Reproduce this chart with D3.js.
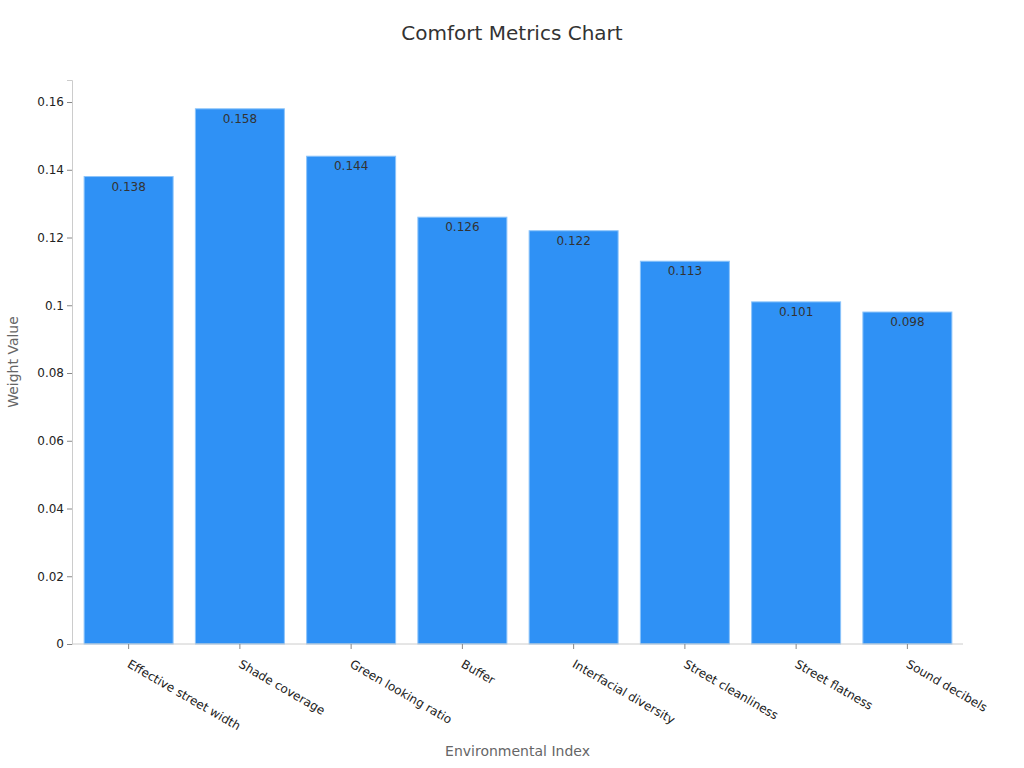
<!DOCTYPE html>
<html>
<head>
<meta charset="utf-8">
<script src="https://cdn.jsdelivr.net/npm/d3@7"></script>
<style>
  body { margin: 0; background: #fff; }
  svg { font-family: "DejaVu Sans", sans-serif; }
</style>
</head>
<body>
<svg id="chart"></svg>
<script>
const categories = [
  "Effective street width",
  "Shade coverage",
  "Green looking ratio",
  "Buffer",
  "Interfacial diversity",
  "Street cleanliness",
  "Street flatness",
  "Sound decibels"
];
const weights = [0.138, 0.158, 0.144, 0.126, 0.122, 0.113, 0.101, 0.098];
const yTicks = [0, 0.02, 0.04, 0.06, 0.08, 0.1, 0.12, 0.14, 0.16];

const width = 1024;
const height = 768;
const margin = { top: 80, right: 61, bottom: 124, left: 72 };

const svg = d3.select("#chart")
  .attr("width", width)
  .attr("height", height);

const xScale = d3.scaleBand()
  .domain(categories)
  .range([margin.left + 1, width - margin.right])
  .paddingInner(0.2)
  .paddingOuter(0.1);

const yScale = d3.scaleLinear()
  .domain([0, 0.1665])
  .range([height - margin.bottom, margin.top]);

// title
svg.append("text")
  .attr("x", width / 2)
  .attr("y", 40)
  .attr("text-anchor", "middle")
  .style("font-size", "20px")
  .style("fill", "#333")
  .text("Comfort Metrics Chart");

// bars
svg.selectAll("rect.bar")
  .data(weights)
  .enter()
  .append("rect")
  .attr("class", "bar")
  .attr("x", (d, i) => xScale(categories[i]))
  .attr("y", (d) => yScale(d))
  .attr("width", xScale.bandwidth())
  .attr("height", (d) => yScale(0) - yScale(d))
  .style("fill", "#2f91f5")
  .style("stroke", "#8cc4fa")
  .style("stroke-width", 1);

// value labels
svg.selectAll("text.value")
  .data(weights)
  .enter()
  .append("text")
  .attr("class", "value")
  .attr("x", (d, i) => xScale(categories[i]) + xScale.bandwidth() / 2)
  .attr("y", (d) => yScale(d) + 14)
  .attr("text-anchor", "middle")
  .style("font-size", "12px")
  .style("fill", "#333")
  .text((d) => d3.format(".3f")(d));

// y axis
const yAxis = d3.axisLeft(yScale)
  .tickValues(yTicks)
  .tickSize(5)
  .tickFormat((d) => (d === 0 ? "0" : d3.format("~g")(d)));

const gy = svg.append("g")
  .attr("transform", `translate(${margin.left}, 0)`)
  .call(yAxis);
gy.select(".domain").style("stroke", "#ccc");
gy.selectAll(".tick line").style("stroke", "#888");
gy.selectAll(".tick text")
  .style("font-size", "12px")
  .style("fill", "#222")
  .style("font-family", "DejaVu Sans, sans-serif");

// x axis
const xAxis = d3.axisBottom(xScale).tickSize(5).tickSizeOuter(0);
const gx = svg.append("g")
  .attr("transform", `translate(0, ${height - margin.bottom})`)
  .call(xAxis);
gx.select(".domain")
  .attr("d", `M${margin.left},0H${width - margin.right}`)
  .style("stroke", "#ccc");
gx.selectAll(".tick line").style("stroke", "#888");
gx.selectAll(".tick text")
  .style("font-size", "12px")
  .style("fill", "#222")
  .style("font-family", "DejaVu Sans, sans-serif")
  .attr("text-anchor", "start")
  .attr("dy", "0.35em")
  .attr("transform", "translate(4, 12) rotate(30)");

// axis titles
svg.append("text")
  .attr("x", (margin.left + width - margin.right) / 2)
  .attr("y", 756)
  .attr("text-anchor", "middle")
  .style("font-size", "14px")
  .style("fill", "#666")
  .text("Environmental Index");

svg.append("text")
  .attr("transform", `translate(18, ${(margin.top + height - margin.bottom) / 2}) rotate(-90)`)
  .attr("text-anchor", "middle")
  .style("font-size", "14px")
  .style("fill", "#666")
  .text("Weight Value");
</script>
</body>
</html>
